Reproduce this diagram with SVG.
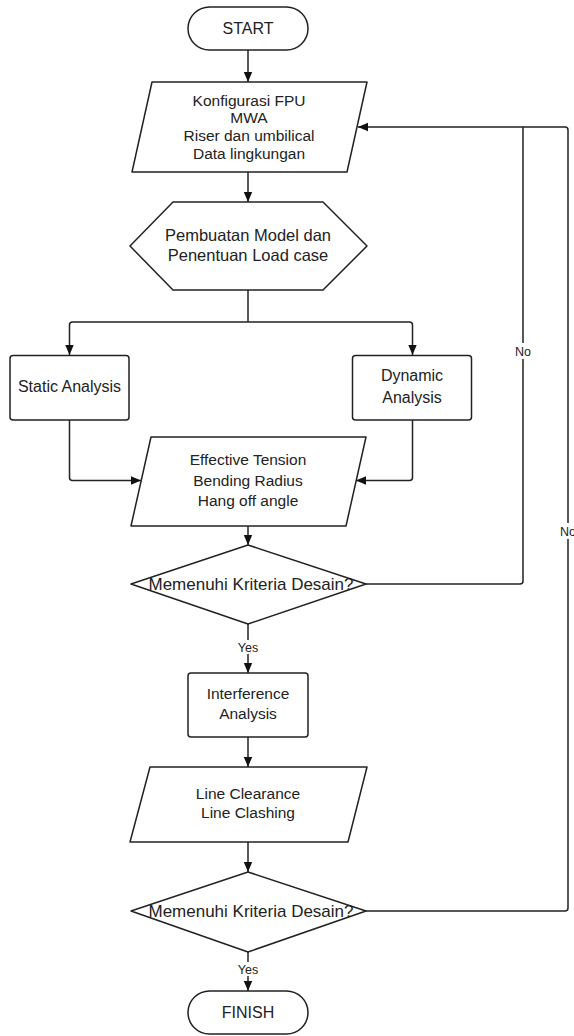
<svg xmlns="http://www.w3.org/2000/svg" width="574" height="1036" viewBox="0 0 574 1036">
<style>
.s{fill:#fff;stroke:#222;stroke-width:1.5;stroke-linejoin:round}
.c{fill:none;stroke:#222;stroke-width:1.5;stroke-linejoin:round}
text{font-family:"Liberation Sans",Arial,sans-serif;fill:#222;text-anchor:middle}
.t{font-size:15.5px}
.d{font-size:17px}
.l{font-size:12.5px}
</style>
<defs>
<marker id="a" markerUnits="userSpaceOnUse" markerWidth="10" markerHeight="10" refX="10" refY="5" orient="auto">
<path d="M0,0.8 L10,5 L0,9.2 z" fill="#111"/>
</marker>
</defs>
<rect width="574" height="1036" fill="#fff"/>
<g id="connectors">
<path class="c" d="M248,50 V82" marker-end="url(#a)"/>
<path class="c" d="M248,172 V202" marker-end="url(#a)"/>
<path class="c" d="M248,290 V322"/>
<path class="c" d="M248,322 H72.5 Q69.5,322 69.5,325 V355" marker-end="url(#a)"/>
<path class="c" d="M248,322 H409.5 Q412.5,322 412.5,325 V355" marker-end="url(#a)"/>
<path class="c" d="M69.5,420 V477.5 Q69.5,480.5 72.5,480.5 H141" marker-end="url(#a)"/>
<path class="c" d="M412.5,420 V477.5 Q412.5,480.5 409.5,480.5 H356" marker-end="url(#a)"/>
<path class="c" d="M248,526 V545" marker-end="url(#a)"/>
<path class="c" d="M366,584 H520 Q523,584 523,581 V127 H358" marker-end="url(#a)"/>
<path class="c" d="M366,911 H565 Q568,911 568,908 V130 Q568,127 565,127 H523"/>
<path class="c" d="M248,624 V673" marker-end="url(#a)"/>
<path class="c" d="M248,737 V767" marker-end="url(#a)"/>
<path class="c" d="M248,842 V872" marker-end="url(#a)"/>
<path class="c" d="M248,952 V991" marker-end="url(#a)"/>
<rect x="512" y="343" width="22" height="16" fill="#fff"/>
<text class="l" x="523" y="356">No</text>
<rect x="557" y="523" width="22" height="16" fill="#fff"/>
<text class="l" x="568" y="536">No</text>
<rect x="236" y="640" width="24" height="14" fill="#fff"/>
<text class="l" x="248" y="651.5">Yes</text>
<rect x="236" y="962" width="24" height="14" fill="#fff"/>
<text class="l" x="248" y="973.5">Yes</text>
</g>
<g id="start">
<rect class="s" x="188" y="7" width="120" height="43" rx="21.5"/>
<text class="t" style="font-size:16px" x="248" y="34">START</text>
</g>
<g id="input1">
<path class="s" d="M152,82 H367 L347,172 H132 Z"/>
<text class="t" x="249" y="105.5">Konfigurasi FPU</text>
<text class="t" x="249" y="123">MWA</text>
<text class="t" x="249" y="141">Riser dan umbilical</text>
<text class="t" x="249" y="159">Data lingkungan</text>
</g>
<g id="prep">
<path class="s" d="M130,246 L173,202 H323 L367,246 L323,290 H173 Z"/>
<text class="t" style="font-size:16.5px" x="248" y="241">Pembuatan Model dan</text>
<text class="t" style="font-size:16.5px" x="248" y="261">Penentuan Load case</text>
</g>
<g id="static">
<rect class="s" x="10" y="355.5" width="119" height="64.5" rx="3"/>
<text class="t" style="font-size:16px" x="69.5" y="391.5">Static Analysis</text>
</g>
<g id="dynamic">
<rect class="s" x="352.5" y="355.5" width="119" height="64.5" rx="3"/>
<text class="t" style="font-size:16px" x="412" y="380.5">Dynamic</text>
<text class="t" style="font-size:16px" x="412" y="402.5">Analysis</text>
</g>
<g id="input2">
<path class="s" d="M151,437 H366 L346,526 H131 Z"/>
<text class="t" x="248" y="464.5">Effective Tension</text>
<text class="t" x="248" y="485.5">Bending Radius</text>
<text class="t" x="248" y="506">Hang off angle</text>
</g>
<g id="decision1">
<path class="s" d="M248,545 L366,584 L248,624 L131,584 Z"/>
<text class="d" x="251" y="590">Memenuhi Kriteria Desain?</text>
</g>
<g id="interference">
<rect class="s" x="188" y="673" width="120" height="64" rx="3"/>
<text class="t" x="248" y="698.5">Interference</text>
<text class="t" x="248" y="718.5">Analysis</text>
</g>
<g id="input3">
<path class="s" d="M150,767 H367 L348,842 H130 Z"/>
<text class="t" x="248" y="798.5">Line Clearance</text>
<text class="t" x="248" y="817.5">Line Clashing</text>
</g>
<g id="decision2">
<path class="s" d="M248,872 L366,911 L248,952 L131,911 Z"/>
<text class="d" x="251" y="917">Memenuhi Kriteria Desain?</text>
</g>
<g id="finish">
<rect class="s" x="188" y="991" width="120" height="43" rx="21.5"/>
<text class="t" style="font-size:16px" x="248" y="1018">FINISH</text>
</g>
</svg>
